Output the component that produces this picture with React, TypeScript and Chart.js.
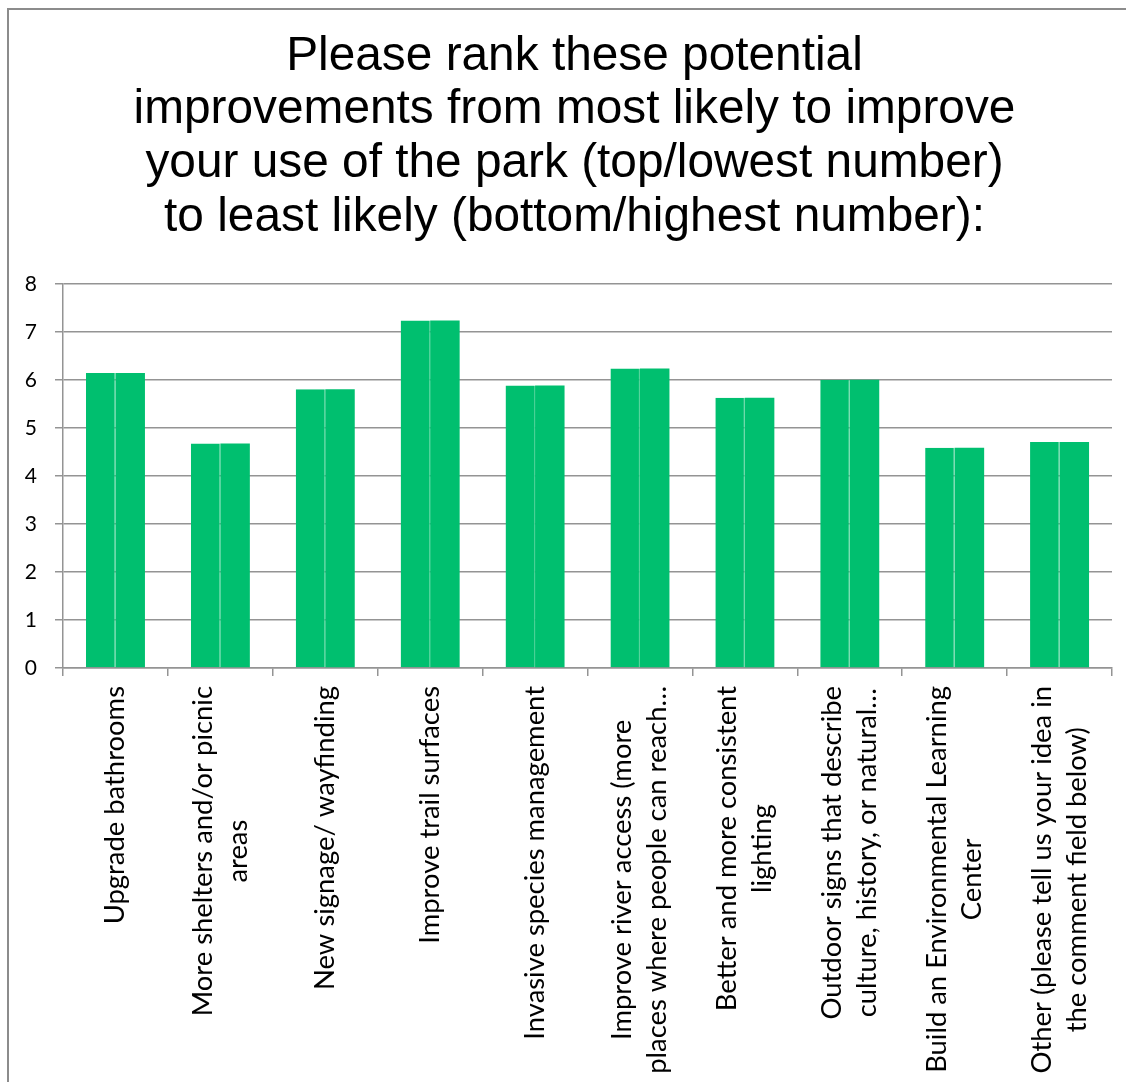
import React, { useEffect, useRef } from 'react';
import { Chart, registerables } from 'chart.js';

Chart.register(...registerables);

const titleLines: string[] = [
  'Please rank these potential',
  'improvements from most likely to improve',
  'your use of the park (top/lowest number)',
  'to least likely (bottom/highest number):',
];

const categories: (string | string[])[] = [
  'Upgrade bathrooms',
  ['More shelters and/or picnic', 'areas'],
  'New signage/ wayfinding',
  'Improve trail surfaces',
  'Invasive species management',
  ['Improve river access (more', 'places where people can reach…'],
  ['Better and more consistent', 'lighting'],
  ['Outdoor signs that describe', 'culture, history, or natural…'],
  ['Build an Environmental Learning', 'Center'],
  ['Other (please tell us your idea in', 'the comment field below)'],
];

const averageRank: number[] = [6.15, 4.68, 5.81, 7.24, 5.89, 6.24, 5.63, 6.01, 4.59, 4.71];

const yMin = 0;
const yMax = 8;
const yStep = 1;

const BAR = '#00BF6F';
const SEAM = '#45D093';
const GRID = '#949494';

// Centre every line of a rotated multi-line category label on its tick,
// and centre the lines relative to each other (as the original does).
const centerMultiLineLabels = {
  id: 'centerMultiLineLabels',
  beforeDraw(chart: any) {
    const scale = chart.scales.x;
    if (!scale || !scale.getLabelItems) return;
    const ctx = chart.ctx;
    const items = scale.getLabelItems();
    items.forEach((item: any) => {
      if (item.__centered) return;
      const lines: string[] = Array.isArray(item.label) ? item.label : [item.label];
      ctx.save();
      ctx.font = item.font.string;
      const widest = Math.max(...lines.map((l) => ctx.measureText(l).width));
      ctx.restore();
      item.options.translation[0] -= ((lines.length - 1) * item.font.lineHeight) / 2;
      item.options.translation[1] += widest / 2;
      item.options.textAlign = 'center';
      item.__centered = true;
    });
  },
};

export default function App() {
  const ref = useRef<HTMLCanvasElement | null>(null);

  useEffect(() => {
    if (!ref.current) return;
    const chart = new Chart(ref.current, {
      type: 'bar',
      data: {
        labels: categories,
        datasets: [
          {
            label: 'Average rank',
            data: averageRank,
            backgroundColor: BAR,
            borderColor: SEAM,
            borderWidth: { top: 0, left: 0, bottom: 0, right: 1 },
            borderSkipped: false,
            categoryPercentage: 0.5625,
            barPercentage: 1,
          },
          {
            label: 'Average rank ',
            data: averageRank,
            backgroundColor: BAR,
            borderWidth: 0,
            categoryPercentage: 0.5625,
            barPercentage: 1,
          },
        ],
      },
      options: {
        responsive: false,
        animation: false,
        layout: { padding: { left: 7, right: 0, top: 0, bottom: 0 } },
        plugins: {
          legend: { display: false },
          tooltip: { enabled: false },
          title: {
            display: true,
            text: titleLines,
            color: '#000',
            font: { family: 'Liberation Sans', size: 47.8, weight: 'normal', lineHeight: 1.12 },
            padding: { top: 30, bottom: 40 },
          },
        },
        scales: {
          x: {
            offset: true,
            grid: {
              display: true,
              offset: true,
              drawOnChartArea: false,
              drawTicks: true,
              tickLength: 8,
              color: GRID,
              lineWidth: 1.5,
            },
            border: { display: true, color: GRID, width: 1.5 },
            ticks: {
              autoSkip: false,
              minRotation: 90,
              maxRotation: 90,
              padding: 10,
              color: '#000',
              font: { family: 'Lato', size: 27.4, lineHeight: 1.28 },
            },
            afterFit: (scale: any) => {
              scale.height = 414;
              scale.paddingLeft = 0;
              scale.paddingRight = 0;
            },
          },
          y: {
            min: yMin,
            max: yMax,
            ticks: {
              stepSize: yStep,
              padding: 18,
              color: '#000',
              font: { family: 'Lato', size: 21 },
            },
            grid: {
              color: GRID,
              lineWidth: 1.5,
              tickLength: 8,
              drawTicks: true,
            },
            border: { display: true, color: GRID, width: 1.5 },
            afterFit: (scale: any) => {
              scale.width = 56;
              scale.paddingTop = 0;
              scale.paddingBottom = 0;
            },
          },
          // empty right-hand gutter, so the title is centred as in the original
          gutter: {
            type: 'linear',
            position: 'right',
            display: true,
            ticks: { display: false },
            grid: { drawOnChartArea: false, drawTicks: false },
            border: { display: false },
            afterFit: (scale: any) => {
              scale.width = 30;
            },
          },
        },
      },
      plugins: [centerMultiLineLabels],
    });
    return () => chart.destroy();
  }, []);

  return (
    <div
      style={{
        position: 'fixed',
        left: 0,
        top: 0,
        width: 1126,
        height: 1082,
        overflow: 'hidden',
        background: '#fff',
      }}
    >
      <div
        style={{
          position: 'absolute',
          left: 7,
          top: 8,
          width: 1200,
          height: 1200,
          border: '2px solid #8c8c8c',
          boxSizing: 'border-box',
        }}
      />
      <canvas
        ref={ref}
        width={1142}
        height={1082}
        style={{ position: 'absolute', left: 0, top: 0, width: 1142, height: 1082 }}
      />
    </div>
  );
}
